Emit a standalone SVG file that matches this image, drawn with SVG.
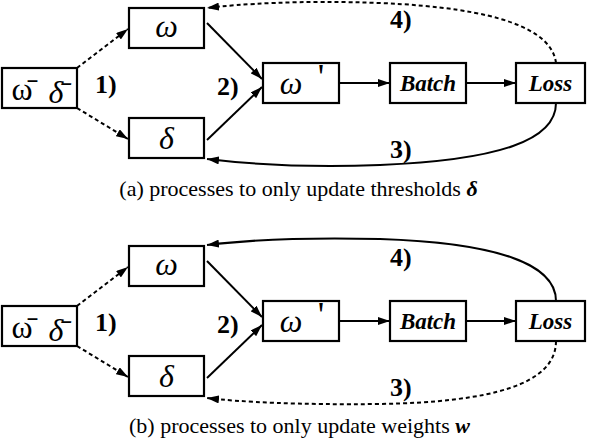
<svg xmlns="http://www.w3.org/2000/svg" width="592" height="442" viewBox="0 0 592 442">
<defs>
<marker id="ah" viewBox="0 0 12 8" refX="12" refY="4" markerWidth="12" markerHeight="8" markerUnits="userSpaceOnUse" orient="auto">
<path d="M0,0 L12,4 L0,8 Z" fill="#000"/>
</marker>
</defs>
<rect width="592" height="442" fill="#fff"/>

<g id="a-wd"><rect x="2" y="68" width="75" height="40" fill="#fff" stroke="#000" stroke-width="2.2"/><text x="22" y="100" font-family="Liberation Serif" font-size="32" text-anchor="middle">ω̄</text><text x="56" y="103" font-family="Liberation Serif" font-size="32" font-style="italic" text-anchor="middle">δ̄</text></g>
<g id="a-w"><rect x="129" y="8" width="75" height="40" fill="#fff" stroke="#000" stroke-width="2.2"/><text x="166.5" y="37" font-family="Liberation Serif" font-size="32" font-style="italic" text-anchor="middle">ω</text></g>
<g id="a-d"><rect x="129" y="118" width="75" height="40" fill="#fff" stroke="#000" stroke-width="2.2"/><text x="166.5" y="149" font-family="Liberation Serif" font-size="32" font-style="italic" text-anchor="middle">δ</text></g>
<g id="a-wp"><rect x="263" y="63" width="76" height="40" fill="#fff" stroke="#000" stroke-width="2.2"/><text x="291" y="94" font-family="Liberation Serif" font-size="32" font-style="italic" text-anchor="middle">ω</text><text x="321" y="89" font-family="Liberation Serif" font-size="36" text-anchor="middle">'</text></g>
<g id="a-batch"><rect x="390" y="63" width="76" height="40" fill="#fff" stroke="#000" stroke-width="2.2"/><text x="428" y="91" font-family="Liberation Serif" font-size="23" font-style="italic" font-weight="bold" text-anchor="middle">Batch</text></g>
<g id="a-loss"><rect x="516" y="63" width="69" height="40" fill="#fff" stroke="#000" stroke-width="2.2"/><text x="550.5" y="91" font-family="Liberation Serif" font-size="23" font-style="italic" font-weight="bold" text-anchor="middle">Loss</text></g>

<g id="a-connectors" fill="none" stroke="#000" stroke-width="2" marker-end="url(#ah)">
<path stroke-dasharray="4,3" d="M77,68 L128,29"/>
<path stroke-dasharray="4,3" d="M77,108 L128,139"/>
<path d="M207,23 L262,79"/>
<path d="M207,140 L262,87"/>
<path d="M339,83 L390,83"/>
<path d="M466,83 L516,83"/>
<path stroke-dasharray="4,3" d="M556,63 C552,30 500,8 380,3 C300,0 240,4 207,8"/>
<path d="M556,103 C556,140 500,160 380,165 C300,168 240,163 207,159"/>
</g>
<text x="95" y="93" font-family="Liberation Serif" font-size="26" font-weight="bold">1)</text>
<text x="217" y="95" font-family="Liberation Serif" font-size="26" font-weight="bold">2)</text>
<text x="390" y="28" font-family="Liberation Serif" font-size="26" font-weight="bold">4)</text>
<text x="390" y="158" font-family="Liberation Serif" font-size="26" font-weight="bold">3)</text>
<text x="298.5" y="196" font-family="Liberation Serif" font-size="22" text-anchor="middle">(a) processes to only update thresholds <tspan font-weight="bold" font-style="italic">δ</tspan></text>

<g id="b-wd"><rect x="2" y="306" width="75" height="40" fill="#fff" stroke="#000" stroke-width="2.2"/><text x="22" y="338" font-family="Liberation Serif" font-size="32" text-anchor="middle">ω̄</text><text x="56" y="341" font-family="Liberation Serif" font-size="32" font-style="italic" text-anchor="middle">δ̄</text></g>
<g id="b-w"><rect x="129" y="246" width="75" height="40" fill="#fff" stroke="#000" stroke-width="2.2"/><text x="166.5" y="275" font-family="Liberation Serif" font-size="32" font-style="italic" text-anchor="middle">ω</text></g>
<g id="b-d"><rect x="129" y="356" width="75" height="40" fill="#fff" stroke="#000" stroke-width="2.2"/><text x="166.5" y="387" font-family="Liberation Serif" font-size="32" font-style="italic" text-anchor="middle">δ</text></g>
<g id="b-wp"><rect x="263" y="301" width="76" height="40" fill="#fff" stroke="#000" stroke-width="2.2"/><text x="291" y="332" font-family="Liberation Serif" font-size="32" font-style="italic" text-anchor="middle">ω</text><text x="321" y="327" font-family="Liberation Serif" font-size="36" text-anchor="middle">'</text></g>
<g id="b-batch"><rect x="390" y="301" width="76" height="40" fill="#fff" stroke="#000" stroke-width="2.2"/><text x="428" y="329" font-family="Liberation Serif" font-size="23" font-style="italic" font-weight="bold" text-anchor="middle">Batch</text></g>
<g id="b-loss"><rect x="516" y="301" width="69" height="40" fill="#fff" stroke="#000" stroke-width="2.2"/><text x="550.5" y="329" font-family="Liberation Serif" font-size="23" font-style="italic" font-weight="bold" text-anchor="middle">Loss</text></g>

<g id="b-connectors" fill="none" stroke="#000" stroke-width="2" marker-end="url(#ah)">
<path stroke-dasharray="4,3" d="M77,306 L128,267"/>
<path stroke-dasharray="4,3" d="M77,346 L128,377"/>
<path d="M207,261 L262,317"/>
<path d="M207,378 L262,325"/>
<path d="M339,321 L390,321"/>
<path d="M466,321 L516,321"/>
<path d="M556,301 C556,265 500,243 380,239 C300,237 240,241 207,245"/>
<path stroke-dasharray="4,3" d="M556,341 C556,385 490,402 380,404 C300,405 240,402 207,398"/>
</g>
<text x="95" y="331" font-family="Liberation Serif" font-size="26" font-weight="bold">1)</text>
<text x="217" y="333" font-family="Liberation Serif" font-size="26" font-weight="bold">2)</text>
<text x="390" y="266" font-family="Liberation Serif" font-size="26" font-weight="bold">4)</text>
<text x="390" y="396" font-family="Liberation Serif" font-size="26" font-weight="bold">3)</text>
<text x="299.5" y="433" font-family="Liberation Serif" font-size="22" text-anchor="middle">(b) processes to only update weights <tspan font-weight="bold" font-style="italic">w</tspan></text>
</svg>
